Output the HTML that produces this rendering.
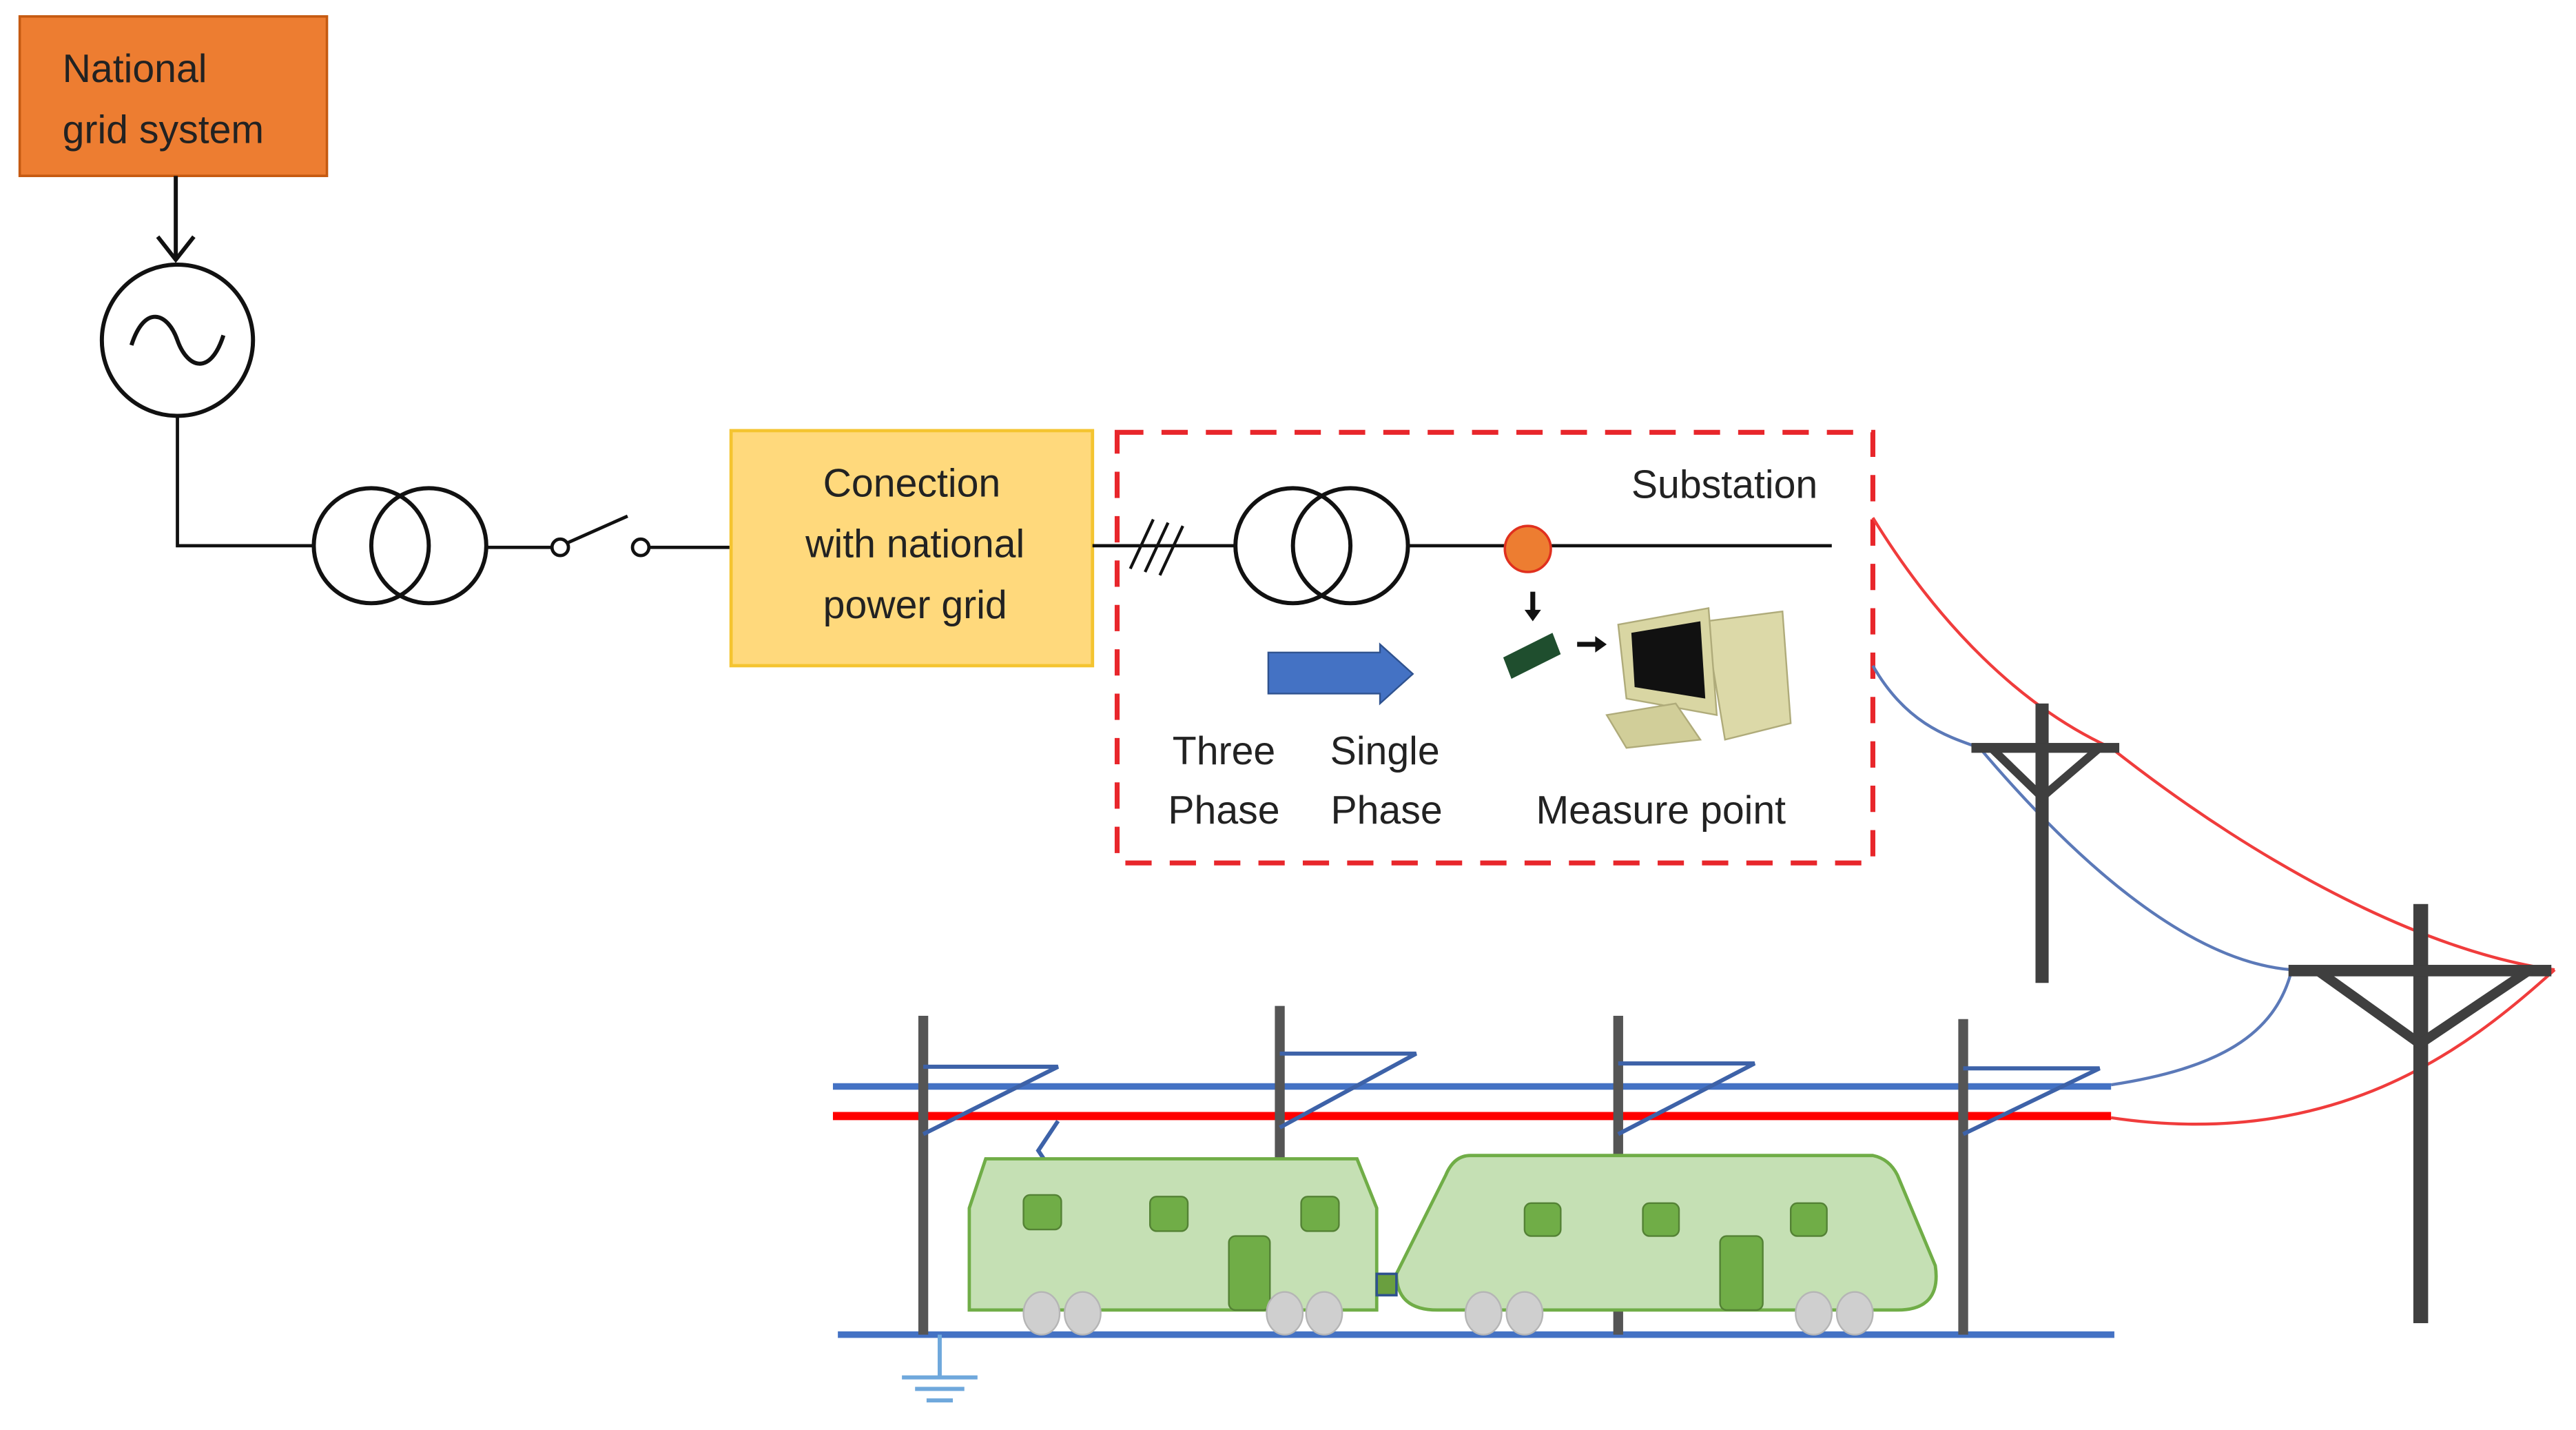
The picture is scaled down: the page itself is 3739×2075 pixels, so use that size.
<!DOCTYPE html>
<html><head><meta charset="utf-8"><style>html,body{margin:0;padding:0;background:#fff}svg{display:block}text{font-family:"Liberation Sans",sans-serif;fill:#222}</style></head><body>
<svg width="3739" height="2075" viewBox="0 0 1568 870" preserveAspectRatio="none" xmlns="http://www.w3.org/2000/svg">
<rect width="1568" height="870" fill="#fff"/>
<rect x="12" y="10" width="187" height="97" fill="#ED7D31" stroke="#C55A11" stroke-width="1.5"/>
<text x="38" y="50" font-size="24">National</text>
<text x="38" y="87" font-size="24">grid system</text>
<line x1="107" y1="107" x2="107" y2="156" stroke="#111" stroke-width="2.5"/>
<path d="M96 144 L107 158 L118 144" fill="none" stroke="#111" stroke-width="2.5"/>
<circle cx="108" cy="207" r="46" fill="none" stroke="#111" stroke-width="2.5"/>
<path d="M80 210 C88 185 102 190 108 207 C114 224 128 229 136 204" fill="none" stroke="#111" stroke-width="2.5"/>
<path d="M108 253 L108 332 L190 332" fill="none" stroke="#111" stroke-width="2"/>
<circle cx="226" cy="332" r="35" fill="none" stroke="#111" stroke-width="2.5"/>
<circle cx="261" cy="332" r="35" fill="none" stroke="#111" stroke-width="2.5"/>
<line x1="296" y1="333" x2="336" y2="333" stroke="#111" stroke-width="2"/>
<circle cx="341" cy="333" r="5" fill="#fff" stroke="#111" stroke-width="2"/>
<circle cx="390" cy="333" r="5" fill="#fff" stroke="#111" stroke-width="2"/>
<line x1="346" y1="330" x2="382" y2="314" stroke="#111" stroke-width="2"/>
<line x1="395" y1="333" x2="445" y2="333" stroke="#111" stroke-width="2"/>
<rect x="445" y="262" width="220" height="143" fill="#FFD97C" stroke="#F4C430" stroke-width="2"/>
<text x="555" y="302" font-size="24" text-anchor="middle">Conection</text>
<text x="557" y="339" font-size="24" text-anchor="middle">with national</text>
<text x="557" y="376" font-size="24" text-anchor="middle">power grid</text>
<line x1="665" y1="332" x2="752" y2="332" stroke="#111" stroke-width="2"/>
<path d="M688 346 L702 316 M697 348 L711 318 M706 350 L720 320" stroke="#111" stroke-width="1.8"/>
<circle cx="787" cy="332" r="35" fill="none" stroke="#111" stroke-width="2.5"/>
<circle cx="822" cy="332" r="35" fill="none" stroke="#111" stroke-width="2.5"/>
<line x1="857" y1="332" x2="1115" y2="332" stroke="#111" stroke-width="2"/>
<circle cx="930" cy="334" r="14" fill="#ED7D31" stroke="#E0301E" stroke-width="1.5"/>
<rect x="680" y="263" width="460" height="262" fill="none" stroke="#E8262B" stroke-width="3" stroke-dasharray="16,11"/>
<text x="993" y="303" font-size="24">Substation</text>
<path d="M772 397 L840 397 L840 392 L860 410 L840 428 L840 422 L772 422 Z" fill="#4472C4" stroke="#2F528F" stroke-width="1"/>
<text x="745" y="465" font-size="24" text-anchor="middle">Three</text>
<text x="745" y="501" font-size="24" text-anchor="middle">Phase</text>
<text x="843" y="465" font-size="24" text-anchor="middle">Single</text>
<text x="844" y="501" font-size="24" text-anchor="middle">Phase</text>
<text x="1011" y="501" font-size="24" text-anchor="middle">Measure point</text>
<line x1="933" y1="360" x2="933" y2="373" stroke="#111" stroke-width="3"/>
<path d="M928 371 L933 378 L938 371 Z" fill="#111"/>
<path d="M915 400 L945 385 L950 398 L920 413 Z" fill="#1F4E2E"/>
<line x1="960" y1="392" x2="972" y2="392" stroke="#111" stroke-width="3"/>
<path d="M971 387 L978 392 L971 397 Z" fill="#111"/>
<path d="M1038 378 L1085 372 L1090 440 L1050 450 Z" fill="#DCD9A8" stroke="#AFAB7A"/>
<path d="M985 380 L1040 370 L1045 435 L990 425 Z" fill="#D9D6A3" stroke="#AFAB7A"/>
<path d="M993 385 L1035 378 L1038 425 L995 418 Z" fill="#111"/>
<path d="M978 435 L1020 428 L1035 450 L990 455 Z" fill="#D1CE99" stroke="#AFAB7A"/>
<path d="M1140 315 C1180 380 1230 430 1285 455 C1380 530 1480 580 1555 590" fill="none" stroke="#F03C3C" stroke-width="1.8"/>
<path d="M1140 405 C1160 440 1185 448 1205 455 C1260 520 1330 585 1395 590" fill="none" stroke="#5B79B8" stroke-width="1.8"/>
<path d="M1555 590 C1500 640 1420 700 1285 680" fill="none" stroke="#F03C3C" stroke-width="1.8"/>
<path d="M1395 590 C1385 630 1350 650 1285 660" fill="none" stroke="#5B79B8" stroke-width="1.8"/>
<rect x="1239" y="428" width="8" height="170" fill="#3F3F3F"/>
<rect x="1200" y="452" width="90" height="6" fill="#3F3F3F"/>
<path d="M1212 455 L1243 485 L1278 455" fill="none" stroke="#3F3F3F" stroke-width="5"/>
<rect x="1469" y="550" width="9" height="255" fill="#3F3F3F"/>
<rect x="1393" y="587" width="160" height="7" fill="#3F3F3F"/>
<path d="M1410 590 L1473 635 L1540 590" fill="none" stroke="#3F3F3F" stroke-width="6"/>
<line x1="507" y1="661" x2="1285" y2="661" stroke="#4472C4" stroke-width="4"/>
<line x1="507" y1="679" x2="1285" y2="679" stroke="#FF0000" stroke-width="5"/>
<line x1="510" y1="812" x2="1287" y2="812" stroke="#4472C4" stroke-width="4"/>
<g fill="#555">
<rect x="559" y="618" width="6" height="194"/>
<rect x="776" y="612" width="6" height="93"/>
<rect x="982" y="618" width="6" height="194"/>
<rect x="1192" y="620" width="6" height="192"/>
</g>
<g fill="none" stroke="#3D62A8" stroke-width="2.5">
<path d="M562 649 L644 649 L562 690"/>
<path d="M779 641 L862 641 L779 686"/>
<path d="M985 647 L1068 647 L985 690"/>
<path d="M1195 650 L1278 650 L1195 690"/>
<path d="M644 682 L632 700 L640 712"/>
</g>
<path d="M600 705 L826 705 L838 735 L838 797 L590 797 L590 735 Z" fill="#C5E0B4" stroke="#70AD47" stroke-width="2"/>
<path d="M895 703 L1140 703 Q1150 705 1155 715 L1178 770 Q1182 797 1155 797 L875 797 Q850 797 850 775 L880 715 Q885 703 895 703 Z" fill="#C5E0B4" stroke="#70AD47" stroke-width="2"/>
<rect x="838" y="775" width="12" height="13" fill="#6A9F3F" stroke="#2F528F" stroke-width="1.5"/>
<g fill="#70AD47" stroke="#548235" stroke-width="1">
<rect x="623" y="727" width="23" height="21" rx="4"/>
<rect x="700" y="728" width="23" height="21" rx="4"/>
<rect x="792" y="728" width="23" height="21" rx="4"/>
<rect x="748" y="752" width="25" height="45" rx="4"/>
<rect x="928" y="732" width="22" height="20" rx="4"/>
<rect x="1000" y="732" width="22" height="20" rx="4"/>
<rect x="1090" y="732" width="22" height="20" rx="4"/>
<rect x="1047" y="752" width="26" height="45" rx="4"/>
</g>
<g fill="#CFCFCF" stroke="#B5B5B5" stroke-width="1">
<ellipse cx="634" cy="799" rx="11" ry="13"/><ellipse cx="659" cy="799" rx="11" ry="13"/>
<ellipse cx="782" cy="799" rx="11" ry="13"/><ellipse cx="806" cy="799" rx="11" ry="13"/>
<ellipse cx="903" cy="799" rx="11" ry="13"/><ellipse cx="928" cy="799" rx="11" ry="13"/>
<ellipse cx="1104" cy="799" rx="11" ry="13"/><ellipse cx="1129" cy="799" rx="11" ry="13"/>
</g>
<g stroke="#6FA8DC" stroke-width="2.5">
<line x1="572" y1="812" x2="572" y2="838"/>
<line x1="549" y1="838" x2="595" y2="838"/>
<line x1="557" y1="845" x2="587" y2="845"/>
<line x1="564" y1="852" x2="580" y2="852"/>
</g>
</svg>
</body></html>
